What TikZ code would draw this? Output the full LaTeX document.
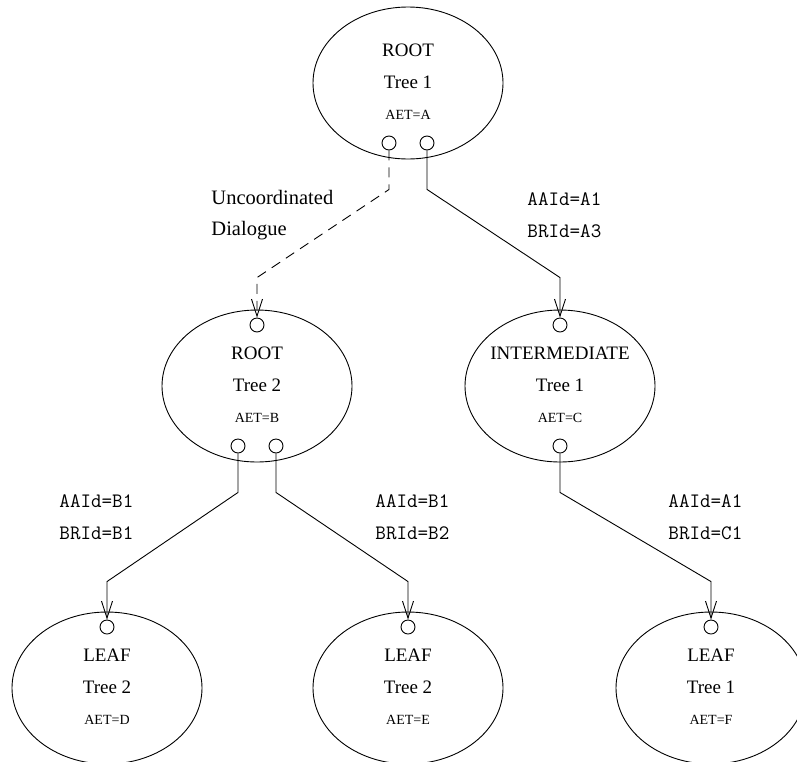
\documentclass[tikz,border=0pt]{standalone}
\usepackage{fontspec}
\setmainfont{Liberation Serif}
\usetikzlibrary{shapes.geometric,arrows.meta}
\begin{document}
\begin{tikzpicture}[x=1pt,y=-1pt,line width=0.9pt,
  unit/.style={draw,ellipse,minimum width=190pt,minimum height=152pt,inner sep=0pt},
  port/.style={draw,circle,minimum size=14pt,inner sep=0pt},
  role/.style={font=\fontsize{19}{19}\selectfont,inner sep=0pt},
  aet/.style={font=\fontsize{14}{14}\selectfont,inner sep=0pt},
  idlbl/.style={font=\ttfamily\fontsize{20.5}{20.5}\selectfont,anchor=west,inner sep=0pt,text height=1.5ex,text depth=0.25ex},
  note/.style={font=\fontsize{20.5}{20.5}\selectfont,anchor=west,inner sep=0pt,text height=1.5ex,text depth=0.25ex},
  conn/.style={-{Straight Barb[length=17pt,width=11pt]}},
  dconn/.style={conn,dash pattern=on 10pt off 7pt}]
\useasboundingbox (0,0) rectangle (797,761);
\clip (0,0) rectangle (797,761);

% application entities: role, tree and AE title
\node[unit] (top) at (408,83) {};
\node[role] (topR) at (408,50) {ROOT};
\node[role] (topT) at (408,82) {Tree 1};
\node[aet]  (topA) at (408,115) {AET=A};
\node[port] (topP1) at (389,143) {};
\node[port] (topP2) at (427,143) {};

\node[unit] (ml) at (257,386) {};
\node[port] (mlIn) at (257,325) {};
\node[role] (mlR) at (257,353) {ROOT};
\node[role] (mlT) at (257,385) {Tree 2};
\node[aet]  (mlA) at (257,418) {AET=B};
\node[port] (mlP1) at (238,446) {};
\node[port] (mlP2) at (276,446) {};

\node[unit] (mr) at (560,386) {};
\node[port] (mrIn) at (560,325) {};
\node[role] (mrR) at (560,353) {INTERMEDIATE};
\node[role] (mrT) at (560,385) {Tree 1};
\node[aet]  (mrA) at (560,418) {AET=C};
\node[port] (mrP1) at (560,446) {};

\node[unit] (bl) at (107,688) {};
\node[port] (blIn) at (107,627) {};
\node[role] (blR) at (107,655) {LEAF};
\node[role] (blT) at (107,687) {Tree 2};
\node[aet]  (blA) at (107,720) {AET=D};

\node[unit] (bm) at (408,688) {};
\node[port] (bmIn) at (408,627) {};
\node[role] (bmR) at (408,655) {LEAF};
\node[role] (bmT) at (408,687) {Tree 2};
\node[aet]  (bmA) at (408,720) {AET=E};

\node[unit] (br) at (711,688) {};
\node[port] (brIn) at (711,627) {};
\node[role] (brR) at (711,655) {LEAF};
\node[role] (brT) at (711,687) {Tree 1};
\node[aet]  (brA) at (711,720) {AET=F};

% associations between the entities
\draw[dconn] (topP1.south) -- ++(0,39) -- ([yshift=40pt]mlIn.north) -- (mlIn.north);
\draw[conn] (topP2.south) -- ++(0,39) -- ([yshift=40pt]mrIn.north) -- (mrIn.north);
\draw[conn] (mlP1.south) -- ++(0,39) -- ([yshift=38pt]blIn.north) -- (blIn.north);
\draw[conn] (mlP2.south) -- ++(0,39) -- ([yshift=38pt]bmIn.north) -- (bmIn.north);
\draw[conn] (mrP1.south) -- ++(0,39) -- ([yshift=38pt]brIn.north) -- (brIn.north);

% association labels
\node[note] (unc1) at (211,202) {Uncoordinated};
\node[note] (unc2) at (211,233) {Dialogue};
\node[idlbl] (l1a) at (527,203) {AAId=A1};
\node[idlbl] (l1b) at (527,235) {BRId=A3};
\node[idlbl] (l2a) at (59,505) {AAId=B1};
\node[idlbl] (l2b) at (59,537) {BRId=B1};
\node[idlbl] (l3a) at (375,505) {AAId=B1};
\node[idlbl] (l3b) at (375,537) {BRId=B2};
\node[idlbl] (l4a) at (668,505) {AAId=A1};
\node[idlbl] (l4b) at (668,537) {BRId=C1};
\end{tikzpicture}
\end{document}
